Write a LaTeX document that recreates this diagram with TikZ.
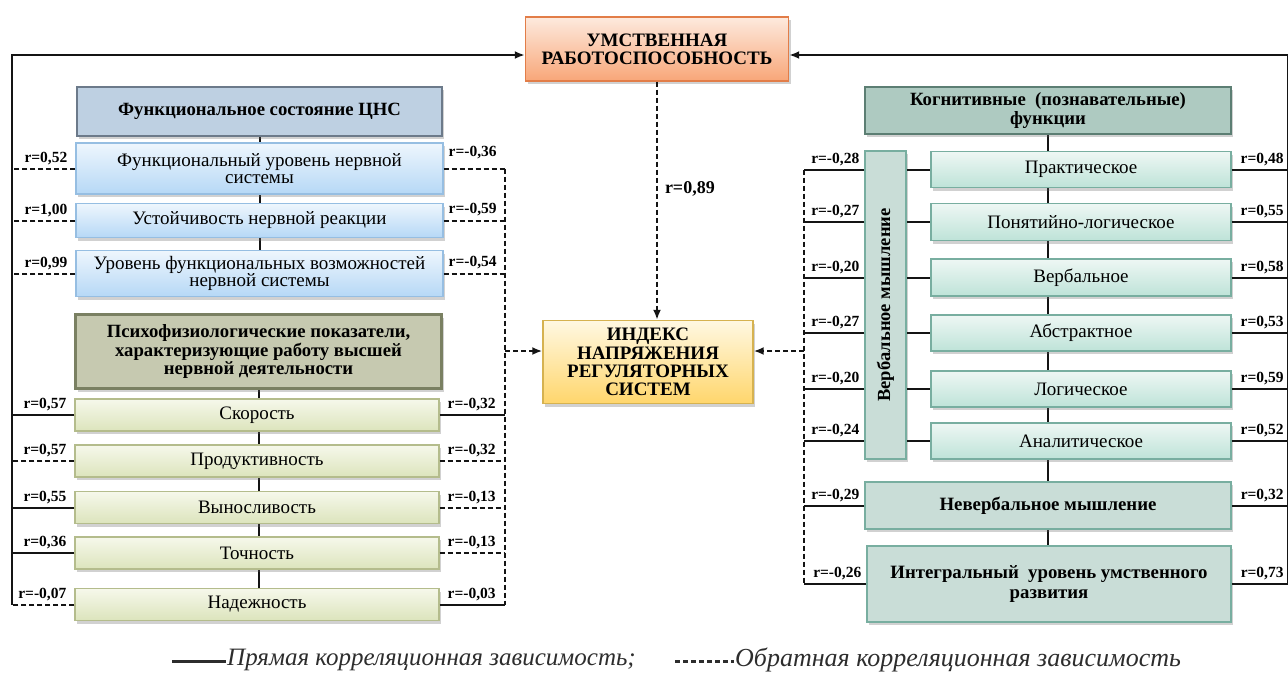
\documentclass[tikz,border=0pt]{standalone}
\usepackage{fontspec}
\setmainfont{LiberationSerif-Regular.ttf}[BoldFont=LiberationSerif-Bold.ttf,
  ItalicFont=LiberationSerif-Italic.ttf,BoldItalicFont=LiberationSerif-BoldItalic.ttf]
\usetikzlibrary{arrows.meta,positioning,calc,shadows,backgrounds}
\definecolor{inkline}{RGB}{20,20,20}
\definecolor{peachtop}{RGB}{253,234,222}
\definecolor{peachbot}{RGB}{248,166,120}
\definecolor{peachedge}{RGB}{226,125,72}
\definecolor{goldtop}{RGB}{255,248,226}
\definecolor{goldbot}{RGB}{255,214,108}
\definecolor{goldedge}{RGB}{214,178,80}
\definecolor{bluetop}{RGB}{238,246,253}
\definecolor{bluebot}{RGB}{182,216,246}
\definecolor{blueedge}{RGB}{150,190,226}
\definecolor{bluehead}{RGB}{190,208,226}
\definecolor{blueheadedge}{RGB}{108,122,138}
\definecolor{olivetop}{RGB}{246,248,235}
\definecolor{olivebot}{RGB}{220,228,188}
\definecolor{oliveedge}{RGB}{180,188,140}
\definecolor{olivehead}{RGB}{198,201,176}
\definecolor{oliveheadedge}{RGB}{122,128,98}
\definecolor{tealtop}{RGB}{238,247,244}
\definecolor{tealbot}{RGB}{190,227,216}
\definecolor{tealedge}{RGB}{120,174,160}
\definecolor{tealhead}{RGB}{174,202,193}
\definecolor{tealheadedge}{RGB}{92,126,115}
\definecolor{tealbox}{RGB}{201,221,215}
\definecolor{legendgray}{RGB}{45,45,45}

\begin{document}
\begin{tikzpicture}[x=1pt,y=-1pt,
  every node/.style={inner sep=1pt},
  shade/.style={drop shadow={shadow xshift=2pt,shadow yshift=-3pt,opacity=0.3,fill=black!60}},
  headbox/.style={rectangle,shade,line width=2.8pt,align=center,
                  font=\fontsize{18.7}{18.5}\selectfont\bfseries},
  itembox/.style={rectangle,shade,line width=1.3pt,align=center,
                  font=\fontsize{19}{17.5}\selectfont},
  bluebox/.style={itembox,draw=blueedge,top color=bluetop,bottom color=bluebot},
  olivebox/.style={itembox,draw=oliveedge,top color=olivetop,bottom color=olivebot},
  tealitem/.style={itembox,draw=tealedge,top color=tealtop,bottom color=tealbot},
  tealplain/.style={itembox,draw=tealedge,fill=tealbox,line width=1.5pt,
                    font=\fontsize{18.8}{20}\selectfont\bfseries},
  rval/.style={font=\fontsize{15.5}{16}\selectfont\bfseries},
  direct/.style={draw=inkline,line width=2pt},
  inverse/.style={direct,dash pattern=on 5pt off 3pt},
  arrow/.style={-{Latex[length=10pt,width=8pt]}}
]
\useasboundingbox (0,0) rectangle (1288,673);

% main result boxes
\node[rectangle,shade,draw=peachedge,line width=1.4pt,top color=peachtop,bottom color=peachbot,
      minimum width=263pt,minimum height=64pt,align=center,
      font=\fontsize{19}{18}\selectfont\bfseries] (top) at (657,49) {УМСТВЕННАЯ\\РАБОТОСПОСОБНОСТЬ};
\node[rectangle,shade,draw=goldedge,line width=1.4pt,top color=goldtop,bottom color=goldbot,
      minimum width=210pt,minimum height=83pt,align=center,
      font=\fontsize{19}{18.3}\selectfont\bfseries] (idx) at (648,362) {ИНДЕКС\\НАПРЯЖЕНИЯ\\РЕГУЛЯТОРНЫХ\\СИСТЕМ};

% buses
\coordinate (busL) at (12,0);
\coordinate (busM) at (505,0);
\coordinate (busC) at (804,0);
\coordinate (busR) at (1288,0);

% left block: CNS
\node[headbox,draw=blueheadedge,fill=bluehead,minimum width=365pt,minimum height=49pt] (cns) at (259.5,111.5) {Функциональное состояние ЦНС};
\node[bluebox,minimum width=367pt,minimum height=51pt] (fu1) at (259.5,168.5) {Функциональный уровень нервной\\системы};
\node[bluebox,minimum width=367pt,minimum height=34pt] (fu2) at (259.5,220.5) {Устойчивость нервной реакции};
\node[bluebox,minimum width=367pt,minimum height=46pt] (fu3) at (259.5,273.5) {Уровень функциональных возможностей\\нервной системы};

% left block: psychophysiology
\node[headbox,draw=oliveheadedge,fill=olivehead,minimum width=366pt,minimum height=74pt] (psy) at (258.5,351.5) {Психофизиологические показатели,\\характеризующие работу высшей\\нервной деятельности};
\node[olivebox,minimum width=364pt,minimum height=32pt] (ps1) at (257,415) {Скорость};
\node[olivebox,minimum width=364pt,minimum height=32pt] (ps2) at (257,461) {Продуктивность};
\node[olivebox,minimum width=364pt,minimum height=32pt] (ps3) at (257,507.5) {Выносливость};
\node[olivebox,minimum width=364pt,minimum height=32pt] (ps4) at (257,553) {Точность};
\node[olivebox,minimum width=364pt,minimum height=32pt] (ps5) at (257,604.5) {Надежность};

% right block: cognitive functions
\node[headbox,draw=tealheadedge,fill=tealhead,minimum width=366pt,minimum height=47pt] (kog) at (1048,110.5) {Когнитивные~ (познавательные)\\функции};
\node[tealplain,minimum width=41pt,minimum height=308pt] (verb) at (885.5,305) {};
\node[rotate=90,font=\fontsize{18.5}{18}\selectfont\bfseries] (verbtxt) at (verb.center) {Вербальное мышление};
\node[tealitem,minimum width=300pt,minimum height=36pt] (v1) at (1081,169.5) {Практическое};
\node[tealitem,minimum width=300pt,minimum height=37pt] (v2) at (1081,222) {Понятийно-логическое};
\node[tealitem,minimum width=300pt,minimum height=37pt] (v3) at (1081,277.5) {Вербальное};
\node[tealitem,minimum width=300pt,minimum height=36pt] (v4) at (1081,333) {Абстрактное};
\node[tealitem,minimum width=300pt,minimum height=36pt] (v5) at (1081,389) {Логическое};
\node[tealitem,minimum width=300pt,minimum height=36pt] (v6) at (1081,441) {Аналитическое};
\node[tealplain,minimum width=366pt,minimum height=47pt] (nonv) at (1048,505.5) {Невербальное мышление};
\node[tealplain,minimum width=364pt,minimum height=76pt] (integ) at (1049,584) {Интегральный~ уровень умственного\\развития};

% vertical chains behind the boxes
\begin{scope}[on background layer]
\draw[direct] (cns.south) -- (cns.south|-fu3.north);
\draw[direct] (psy.south) -- (psy.south|-ps5.north);
\draw[direct] (kog.south) -- (kog.south|-integ.north);
\end{scope}

% outer buses to the top box
\draw[direct,arrow] (busL|-ps5) |- ([yshift=-6pt]top.west);
\draw[direct,arrow] (busR|-integ) |- ([yshift=-6pt]top.east);
\draw[inverse,arrow] (top.south) -- (top.south|-idx.north) node[rval,pos=0.45,right=6pt,font=\fontsize{18}{18}\selectfont\bfseries] (r89) {r=0,89};

% inner buses to the index box
\draw[inverse] (busM|-fu1) -- (busM|-ps5);
\draw[inverse,arrow] (busM|-idx.west) ++(0,-11) -- ([yshift=11pt]idx.west);
\draw[inverse] (busC|-v1) -- (busC|-integ);
\draw[inverse,arrow] (busC|-idx.east) ++(0,-11) -- ([yshift=11pt]idx.east);

% CNS links
\draw[inverse] (fu1.west) -- (busL|-fu1) node[rval,pos=0,anchor=south east,xshift=-6pt,yshift=2pt] {r=0,52};
\draw[inverse] (fu1.east) -- (busM|-fu1) node[rval,pos=0,anchor=south west,xshift=3pt,yshift=8pt] {r=-0,36};
\draw[inverse] (fu2.west) -- (busL|-fu2) node[rval,pos=0,anchor=south east,xshift=-6pt,yshift=2pt] {r=1,00};
\draw[inverse] (fu2.east) -- (busM|-fu2) node[rval,pos=0,anchor=south west,xshift=3pt,yshift=3pt] {r=-0,59};
\draw[inverse] (fu3.west) -- (busL|-fu3) node[rval,pos=0,anchor=south east,xshift=-6pt,yshift=2pt] {r=0,99};
\draw[inverse] (fu3.east) -- (busM|-fu3) node[rval,pos=0,anchor=south west,xshift=3pt,yshift=3pt] {r=-0,54};

% psychophysiology links
\draw[direct] (ps1.west) -- (busL|-ps1) node[rval,pos=0,anchor=south east,xshift=-6pt,yshift=2pt] {r=0,57};
\draw[direct] (ps1.east) -- (busM|-ps1) node[rval,pos=0,anchor=south west,xshift=6pt,yshift=2pt] {r=-0,32};
\draw[inverse] (ps2.west) -- (busL|-ps2) node[rval,pos=0,anchor=south east,xshift=-6pt,yshift=2pt] {r=0,57};
\draw[inverse] (ps2.east) -- (busM|-ps2) node[rval,pos=0,anchor=south west,xshift=6pt,yshift=2pt] {r=-0,32};
\draw[direct] (ps3.west) -- (busL|-ps3) node[rval,pos=0,anchor=south east,xshift=-6pt,yshift=2pt] {r=0,55};
\draw[inverse] (ps3.east) -- (busM|-ps3) node[rval,pos=0,anchor=south west,xshift=6pt,yshift=2pt] {r=-0,13};
\draw[direct] (ps4.west) -- (busL|-ps4) node[rval,pos=0,anchor=south east,xshift=-6pt,yshift=2pt] {r=0,36};
\draw[inverse] (ps4.east) -- (busM|-ps4) node[rval,pos=0,anchor=south west,xshift=6pt,yshift=2pt] {r=-0,13};
\draw[inverse] (ps5.west) -- (busL|-ps5) node[rval,pos=0,anchor=south east,xshift=-6pt,yshift=2pt] {r=-0,07};
\draw[direct] (ps5.east) -- (busM|-ps5) node[rval,pos=0,anchor=south west,xshift=6pt,yshift=2pt] {r=-0,03};

% cognitive links
\draw[direct] (verb.west|-v1) -- (busC|-v1) node[rval,pos=0,anchor=south east,xshift=-3pt,yshift=2pt] {r=-0,28};
\draw[direct] (verb.east|-v1) -- (v1.west);
\draw[direct] (v1.east) -- (busR|-v1) node[rval,pos=0,anchor=south west,xshift=7pt,yshift=2pt] {r=0,48};
\draw[direct] (verb.west|-v2) -- (busC|-v2) node[rval,pos=0,anchor=south east,xshift=-3pt,yshift=2pt] {r=-0,27};
\draw[direct] (verb.east|-v2) -- (v2.west);
\draw[direct] (v2.east) -- (busR|-v2) node[rval,pos=0,anchor=south west,xshift=7pt,yshift=2pt] {r=0,55};
\draw[direct] (verb.west|-v3) -- (busC|-v3) node[rval,pos=0,anchor=south east,xshift=-3pt,yshift=2pt] {r=-0,20};
\draw[direct] (verb.east|-v3) -- (v3.west);
\draw[direct] (v3.east) -- (busR|-v3) node[rval,pos=0,anchor=south west,xshift=7pt,yshift=2pt] {r=0,58};
\draw[direct] (verb.west|-v4) -- (busC|-v4) node[rval,pos=0,anchor=south east,xshift=-3pt,yshift=2pt] {r=-0,27};
\draw[direct] (verb.east|-v4) -- (v4.west);
\draw[direct] (v4.east) -- (busR|-v4) node[rval,pos=0,anchor=south west,xshift=7pt,yshift=2pt] {r=0,53};
\draw[direct] (verb.west|-v5) -- (busC|-v5) node[rval,pos=0,anchor=south east,xshift=-3pt,yshift=2pt] {r=-0,20};
\draw[direct] (verb.east|-v5) -- (v5.west);
\draw[direct] (v5.east) -- (busR|-v5) node[rval,pos=0,anchor=south west,xshift=7pt,yshift=2pt] {r=0,59};
\draw[direct] (verb.west|-v6) -- (busC|-v6) node[rval,pos=0,anchor=south east,xshift=-3pt,yshift=2pt] {r=-0,24};
\draw[direct] (verb.east|-v6) -- (v6.west);
\draw[direct] (v6.east) -- (busR|-v6) node[rval,pos=0,anchor=south west,xshift=7pt,yshift=2pt] {r=0,52};
\draw[direct] (nonv.west) -- (busC|-nonv) node[rval,pos=0,anchor=south east,xshift=-3pt,yshift=2pt] {r=-0,29};
\draw[direct] (nonv.east) -- (busR|-nonv) node[rval,pos=0,anchor=south west,xshift=7pt,yshift=2pt] {r=0,32};
\draw[direct] (integ.west) -- (busC|-integ) node[rval,pos=0,anchor=south east,xshift=-3pt,yshift=2pt] {r=-0,26};
\draw[direct] (integ.east) -- (busR|-integ) node[rval,pos=0,anchor=south west,xshift=7pt,yshift=2pt] {r=0,73};

% legend
\node[anchor=west,text=legendgray,font=\fontsize{25}{25}\selectfont\itshape] (legpos) at (226,660) {Прямая корреляционная зависимость;};
\node[anchor=west,text=legendgray,font=\fontsize{26}{26}\selectfont\itshape] (legneg) at (734,660) {Обратная корреляционная зависимость};
\coordinate (legposstart) at (172,661);
\coordinate (legnegstart) at (675,661);
\draw[draw=legendgray,line width=3pt] (legposstart) -- (legpos.west|-legposstart);
\draw[draw=legendgray,line width=3pt,dash pattern=on 5pt off 3pt] (legnegstart) -- (legneg.west|-legnegstart);
\end{tikzpicture}
\end{document}
